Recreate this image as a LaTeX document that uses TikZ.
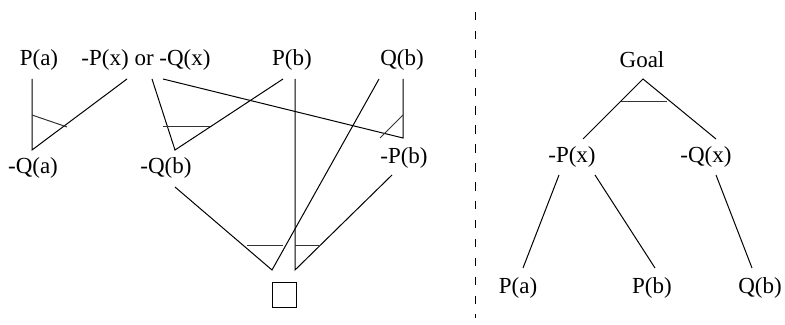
\documentclass[tikz,border=0pt]{standalone}
\usepackage{fontspec}
\setmainfont{Liberation Serif}
\tikzset{
  lit/.style={inner sep=1pt, font=\fontsize{11.5}{13}\selectfont},
  link/.style={line width=0.5pt},
  andbar/.style={line width=0.5pt, black!80},
}
\begin{document}
\begin{tikzpicture}[x=0.5pt, y=-0.5pt]
        \useasboundingbox (0,0) rectangle (785,325);

        % Clauses on the top row
        \node[lit] (pa) at (39,60) {P(a)};
        \node[lit] (por) at (146,60) {-P(x) or -Q(x)};
        \node[lit] (pb) at (292,60) {P(b)};
        \node[lit] (qb) at (402,60) {Q(b)};

        % Resolvents
        \node[lit] (nqa) at (33,168) {-Q(a)};
        \node[lit] (nqb) at (166,168) {-Q(b)};
        \node[lit] (npb) at (404,158) {-P(b)};
        \node[draw, link, inner sep=0pt, minimum width=12pt, minimum height=12.5pt] (empty) at (284,294.5) {};

        % Link ends
        \coordinate (pa-s) at (32,79);
        \coordinate (por-s1) at (127,79);
        \coordinate (por-s2) at (152,79);
        \coordinate (por-s3) at (163,79);
        \coordinate (pb-s1) at (283,79);
        \coordinate (pb-s2) at (295,79);
        \coordinate (qb-s1) at (379,79);
        \coordinate (qb-s2) at (403,79);
        \coordinate (nqa-n) at (32,150);
        \coordinate (nqb-n) at (175,150);
        \coordinate (npb-n) at (403,138);
        \coordinate (nqb-s) at (175,187);
        \coordinate (npb-s) at (392,175);
        \coordinate (empty-n1) at (272,270);
        \coordinate (empty-n2) at (295,270);

        % Resolution steps
        \draw[link] (pa-s) -- (nqa-n) -- (por-s1);
        \draw[andbar] (32,115) -- (67,127);

        \draw[link] (por-s2) -- (nqb-n) -- (pb-s1);
        \draw[andbar] (163,127) -- (210,127);

        \draw[link] (por-s3) -- (npb-n) -- (qb-s2);
        \draw[andbar] (380,138) -- (403,115);

        \draw[link] (nqb-s) -- (empty-n1) -- (qb-s1);
        \draw[andbar] (247,246) -- (283,246);

        \draw[link] (pb-s2) -- (empty-n2) -- (npb-s);
        \draw[andbar] (295,246) -- (319,246);

        % Divider
        \draw[link, dash pattern=on 4.25pt off 5.2pt] (475.5,12) -- (475.5,318);

        % Goal tree
        \node[lit] (goal) at (642,60) {Goal};
        \node[lit] (npx) at (572,157) {-P(x)};
        \node[lit] (nqx) at (706,157) {-Q(x)};
        \node[lit] (pa2) at (518,288) {P(a)};
        \node[lit] (pb2) at (652,288) {P(b)};
        \node[lit] (qb2) at (760,288) {Q(b)};

        \coordinate (goal-s) at (643,79);
        \coordinate (npx-n) at (583,139);
        \coordinate (nqx-n) at (716,139);
        \coordinate (npx-s1) at (559,175);
        \coordinate (npx-s2) at (595,175);
        \coordinate (nqx-s) at (716,175);
        \coordinate (pa2-n) at (523,268);
        \coordinate (pb2-n) at (655,268);
        \coordinate (qb2-n) at (752,268);

        \draw[link] (npx-n) -- (goal-s) -- (nqx-n);
        \draw[andbar] (621,102) -- (667,102);
        \draw[link] (npx-s1) -- (pa2-n);
        \draw[link] (npx-s2) -- (pb2-n);
        \draw[link] (nqx-s) -- (qb2-n);
\end{tikzpicture}
\end{document}
